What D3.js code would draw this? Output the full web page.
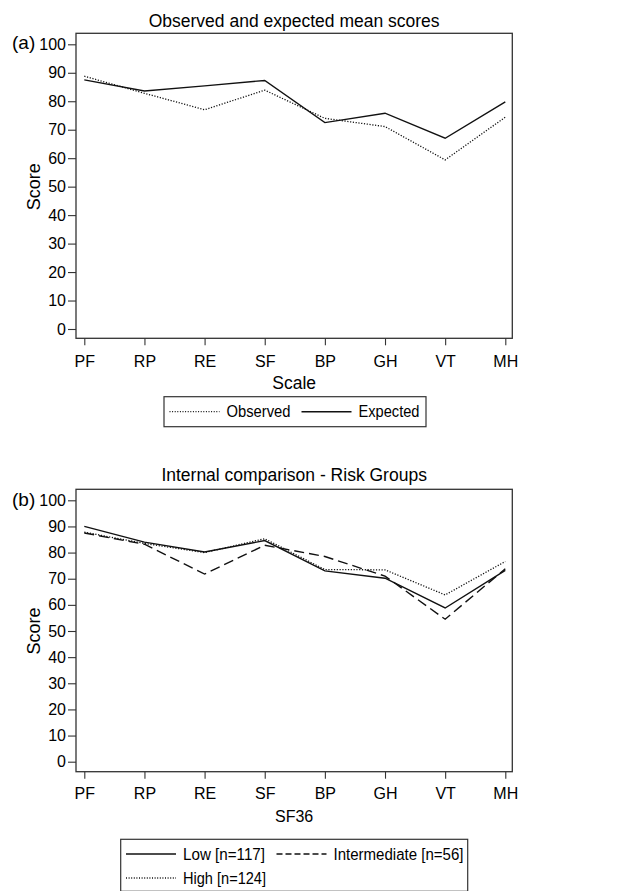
<!DOCTYPE html>
<html>
<head>
<meta charset="utf-8">
<script src="https://cdn.jsdelivr.net/npm/d3@7"></script>
<style>
  html, body { margin: 0; padding: 0; background: #fff; }
  svg { display: block; }
  text { font-family: "Liberation Sans", Arial, Helvetica, sans-serif; fill: #000; }
</style>
</head>
<body>
<svg id="chart" width="625" height="891"></svg>
<script>
// ---- Data ----
const categories = ["PF", "RP", "RE", "SF", "BP", "GH", "VT", "MH"];
const yTicks = [0, 10, 20, 30, 40, 50, 60, 70, 80, 90, 100];

// Panel (a)
const observed = [88.8, 82.8, 77.0, 83.9, 74.0, 71.1, 59.4, 74.4];
const expected = [87.5, 83.6, 85.4, 87.3, 72.5, 75.8, 67.0, 79.8];

// Panel (b)
const lowRisk = [90.0, 84.0, 80.2, 84.6, 73.0, 70.2, 58.8, 73.2];
const intermediateRisk = [87.5, 83.2, 71.8, 82.8, 78.5, 71.0, 54.5, 73.8];
const highRisk = [87.8, 83.5, 80.0, 85.3, 73.5, 73.4, 63.8, 76.6];

const svg = d3.select("#chart");
const lineColor = "#111";
const frameColor = "#333";

const styles = {
  solid: { dash: null, legendDash: null, width: 1.4 },
  dotted: { dash: "1.2,1.6", legendDash: "1,1.6", width: 1.3 },
  dashed: { dash: "10,5", legendDash: "6,3", width: 1.4 }
};

function drawPanel(cfg) {
  const g = svg.append("g");
  const x = d3.scalePoint().domain(categories).range([84.3, 505.3]);
  const y = d3.scaleLinear().domain([0, 100]).range([cfg.y0, cfg.y100]);

  // title
  g.append("text")
    .attr("x", (cfg.left + cfg.right) / 2)
    .attr("y", cfg.titleY + 17.5 * 0.35)
    .attr("text-anchor", "middle")
    .style("font-size", "17.5px")
    .text(cfg.title);

  // panel letter
  g.append("text")
    .attr("x", 12)
    .attr("y", cfg.letterY + 19 * 0.35)
    .style("font-size", "19px")
    .text(cfg.letter);

  // y axis
  const yAxis = d3.axisLeft(y).tickValues(yTicks).tickSize(8).tickPadding(2).tickFormat(d3.format("d"));
  const ya = g.append("g").attr("transform", `translate(${cfg.left},0)`).call(yAxis);
  ya.select(".domain").remove();
  ya.selectAll("line").attr("stroke", frameColor).attr("stroke-width", 1.1);
  ya.selectAll("text").style("font-size", "16px").attr("fill", "#000");

  // x axis
  const xAxis = d3.axisBottom(x).tickSize(7).tickPadding(cfg.xPad);
  const xa = g.append("g").attr("transform", `translate(0,${cfg.bottom})`).call(xAxis);
  xa.select(".domain").remove();
  xa.selectAll("line").attr("stroke", frameColor).attr("stroke-width", 1.1);
  xa.selectAll("text").style("font-size", "16px").attr("fill", "#000");

  // frame
  g.append("rect")
    .attr("x", cfg.left).attr("y", cfg.top)
    .attr("width", cfg.right - cfg.left).attr("height", cfg.bottom - cfg.top)
    .attr("fill", "none").attr("stroke", frameColor).attr("stroke-width", 1.3);

  // axis titles
  g.append("text")
    .attr("transform", `translate(${cfg.yTitleX},${(cfg.y0 + cfg.y100) / 2}) rotate(-90)`)
    .attr("text-anchor", "middle")
    .style("font-size", "18px")
    .text("Score");

  g.append("text")
    .attr("x", (cfg.left + cfg.right) / 2)
    .attr("y", cfg.xTitleY + cfg.xTitleSize * 0.35)
    .attr("text-anchor", "middle")
    .style("font-size", cfg.xTitleSize + "px")
    .text(cfg.xTitle);

  // lines
  const line = d3.line().x((d, i) => x(categories[i])).y(d => y(d));
  cfg.series.forEach(s => {
    const st = styles[s.style];
    g.append("path")
      .datum(s.values)
      .attr("d", line)
      .attr("fill", "none")
      .attr("stroke", lineColor)
      .attr("stroke-width", st.width)
      .attr("stroke-linejoin", "miter")
      .attr("stroke-dasharray", st.dash);
  });

  // legend
  const L = cfg.legend;
  g.append("rect")
    .attr("x", L.x).attr("y", L.y)
    .attr("width", L.w).attr("height", L.h)
    .attr("fill", "#fff").attr("stroke", frameColor).attr("stroke-width", 1.2);
  L.items.forEach(it => {
    const s = cfg.series[it.series];
    const st = styles[s.style];
    g.append("line")
      .attr("x1", it.x).attr("x2", it.x + 50)
      .attr("y1", it.y).attr("y2", it.y)
      .attr("stroke", lineColor)
      .attr("stroke-width", st.width)
      .attr("stroke-dasharray", st.legendDash);
    g.append("text")
      .attr("x", it.x + 57)
      .attr("y", it.y + 16 * 0.35)
      .style("font-size", "16px")
      .attr("textLength", it.tl)
      .attr("lengthAdjust", "spacingAndGlyphs")
      .text(s.name);
  });
}

drawPanel({
  title: "Observed and expected mean scores",
  letter: "(a)",
  titleY: 20.7, letterY: 42,
  left: 76, right: 512.3, top: 33.3, bottom: 338.3,
  y0: 329, y100: 44.3,
  xPad: 10,
  yTitleX: 40,
  xTitle: "Scale", xTitleY: 382.7, xTitleSize: 17.5,
  series: [
    { name: "Observed", values: observed, style: "dotted" },
    { name: "Expected", values: expected, style: "solid" }
  ],
  legend: {
    x: 164, y: 396.7, w: 262, h: 30,
    items: [
      { series: 0, x: 169.5, y: 411.7, tl: 64 },
      { series: 1, x: 301.5, y: 411.7, tl: 61 }
    ]
  }
});

drawPanel({
  title: "Internal comparison - Risk Groups",
  letter: "(b)",
  titleY: 475, letterY: 499,
  left: 76, right: 512.3, top: 489.3, bottom: 771.7,
  y0: 761.7, y100: 500.3,
  xPad: 8.5,
  yTitleX: 40,
  xTitle: "SF36", xTitleY: 816.7, xTitleSize: 16,
  series: [
    { name: "Low [n=117]", values: lowRisk, style: "solid" },
    { name: "Intermediate [n=56]", values: intermediateRisk, style: "dashed" },
    { name: "High [n=124]", values: highRisk, style: "dotted" }
  ],
  legend: {
    x: 120.7, y: 839.3, w: 347, h: 52,
    items: [
      { series: 0, x: 126, y: 854, tl: 82 },
      { series: 1, x: 276.5, y: 854, tl: 130 },
      { series: 2, x: 126, y: 878, tl: 83 }
    ]
  }
});
</script>
</body>
</html>
